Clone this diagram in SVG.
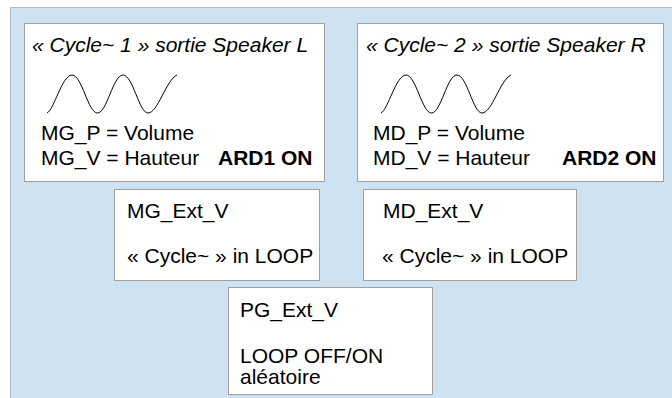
<svg xmlns="http://www.w3.org/2000/svg" width="672" height="398" viewBox="0 0 672 398">
<style>
.box{fill:#ffffff;stroke:#a0a0a0;stroke-width:1}
.t{font-family:"Liberation Sans",Arial,sans-serif;font-size:21px;fill:#000}
.it{font-style:italic}
.b{font-weight:bold}
.wave{fill:none;stroke:#000;stroke-width:1}
</style>
<rect x="10.5" y="7.5" width="670" height="400" fill="#cfe2f1" stroke="#b0bcc6" stroke-width="1"/>
<g id="cycle1">
<rect class="box" x="24.5" y="23.5" width="300" height="158"/>
<text class="t it" x="32" y="52">« Cycle~ 1 » sortie Speaker L</text>
<path class="wave" d="M47,113 C54,110 62,75 72,75 C82,75 88,113 97.5,113 C107,113 113,75 123,75 C133,75 139,113 148,113 C158,113 166,80 177,75"/>
<text class="t" x="41" y="140">MG_P = Volume</text>
<text class="t" x="41" y="165">MG_V = Hauteur</text>
<text class="t b" x="218" y="165">ARD1 ON</text>
</g>
<g id="cycle2">
<rect class="box" x="357.5" y="23.5" width="306" height="158"/>
<text class="t it" x="366" y="52">« Cycle~ 2 » sortie Speaker R</text>
<path class="wave" d="M381,113 C388,110 396,75 406,75 C416,75 422,113 431.5,113 C441,113 447,75 457,75 C467,75 473,113 482,113 C492,113 500,80 511,75"/>
<text class="t" x="373" y="140">MD_P = Volume</text>
<text class="t" x="373" y="165">MD_V = Hauteur</text>
<text class="t b" x="562" y="165">ARD2 ON</text>
</g>
<g id="mg_ext">
<rect class="box" x="114.5" y="189.5" width="205" height="91"/>
<text class="t" x="127" y="218">MG_Ext_V</text>
<text class="t" x="127" y="263">« Cycle~ » in LOOP</text>
</g>
<g id="md_ext">
<rect class="box" x="363.5" y="189.5" width="213" height="91"/>
<text class="t" x="383" y="218">MD_Ext_V</text>
<text class="t" x="382" y="263">« Cycle~ » in LOOP</text>
</g>
<g id="pg_ext">
<rect class="box" x="228.5" y="287.5" width="204" height="107"/>
<text class="t" x="240" y="317">PG_Ext_V</text>
<text class="t" x="240" y="363">LOOP OFF/ON</text>
<text class="t" x="240" y="384">aléatoire</text>
</g>
<g id="connectors"></g>
</svg>
